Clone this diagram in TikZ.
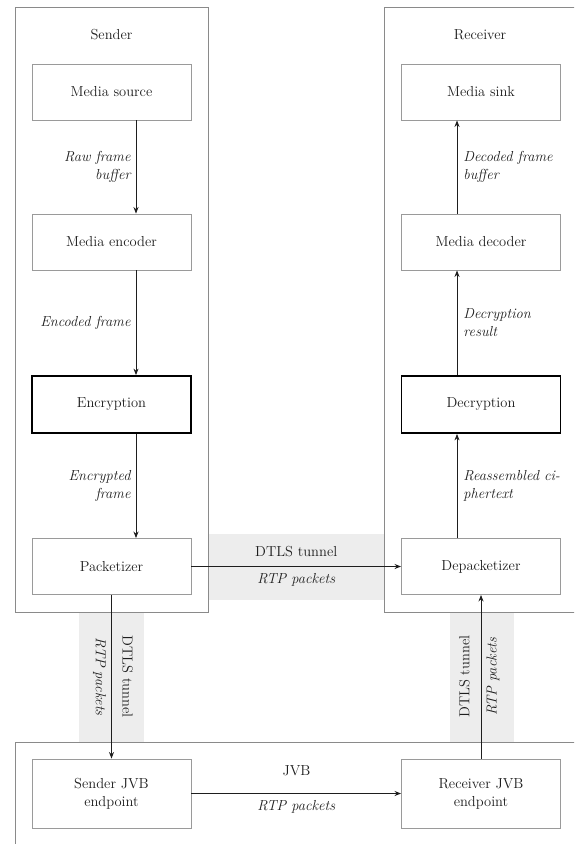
\documentclass[tikz,border=0pt]{standalone}
\usetikzlibrary{arrows.meta}
\definecolor{boxgray}{HTML}{9A9A9A}
\definecolor{framegray}{HTML}{8A8A8A}
\definecolor{bandgray}{HTML}{EDEDED}
\definecolor{inkcol}{HTML}{1E1E1E}
\begin{document}
\begin{tikzpicture}[x=1pt,y=-1pt,
  font=\fontsize{14.5}{18}\selectfont, text=inkcol,
  stagebox/.style={draw=boxgray, line width=0.9pt, minimum width=159pt, minimum height=56pt, inner sep=0pt, align=center},
  cryptbox/.style={stagebox, draw=black, line width=1.8pt, minimum height=57pt},
  jvbbox/.style={stagebox, minimum height=69pt},
  framebox/.style={draw=framegray, line width=0.9pt},
  bandfill/.style={fill=bandgray, draw=none},
  flow/.style={-{Stealth[length=6.5pt,width=5pt]}, line width=0.9pt, draw=inkcol},
  lbl/.style={font=\fontsize{14.5}{18}\selectfont\itshape, inner sep=0pt},
  title/.style={inner sep=0pt}
]
\useasboundingbox (0,0) rectangle (574,844);
\clip (0,0) rectangle (574,844);
\fill[white] (0,0) rectangle (574,844);

% grey tunnel bands
\path[bandfill] (208.5,534) rectangle (384.5,599.5);
\path[bandfill] (79,612) rectangle (144,742);
\path[bandfill] (449.5,612) rectangle (514,742);

% containers
\draw[framebox] (15,7) rectangle (208.5,612);
\draw[framebox] (384.5,7) rectangle (640,612);
\draw[framebox] (15.5,742) rectangle (640,900);
\node[title] (sendert) at (111.5,35) {Sender};
\node[title] (receivert) at (480,35) {Receiver};
\node[title] (jvbt) at (296.5,770.5) {JVB};

% sender stages
\node[stagebox] (src) at (111.5,92) {Media source};
\node[stagebox] (menc) at (111.5,242) {Media encoder};
\node[cryptbox] (encr) at (111.5,404.5) {Encryption};
\node[stagebox] (pack) at (111.5,566.5) {Packetizer};

% receiver stages
\node[stagebox] (sink) at (481,92) {Media sink};
\node[stagebox] (mdec) at (481,242) {Media decoder};
\node[cryptbox] (decr) at (481,404.5) {Decryption};
\node[stagebox] (depack) at (481,566.5) {Depacketizer};

% JVB endpoints
\node[jvbbox] (sjvb) at (111.5,793.5) {Sender JVB\\endpoint};
\node[jvbbox] (rjvb) at (481,793.5) {Receiver JVB\\endpoint};

% sender flow
\draw[flow] ([xshift=24.5pt]src.south) -- ([xshift=24.5pt]menc.north)
  node[midway, left=5pt, lbl, align=right] {Raw frame\\buffer};
\draw[flow] ([xshift=24.5pt]menc.south) -- ([xshift=24.5pt]encr.north)
  node[midway, left=5pt, lbl, align=right] {Encoded frame};
\draw[flow] ([xshift=24.5pt]encr.south) -- ([xshift=24.5pt]pack.north)
  node[midway, left=5pt, lbl, align=right] {Encrypted\\frame};

% receiver flow
\draw[flow] ([xshift=-24pt]depack.north) -- ([xshift=-24pt]decr.south)
  node[midway, right=6pt, lbl, align=left] {Reassembled ci-\\phertext};
\draw[flow] ([xshift=-24pt]decr.north) -- ([xshift=-24pt]mdec.south)
  node[midway, right=6pt, lbl, align=left] {Decryption\\result};
\draw[flow] ([xshift=-24pt]mdec.north) -- ([xshift=-24pt]sink.south)
  node[midway, right=6pt, lbl, align=left] {Decoded frame\\buffer};

% tunnels
\draw[flow] (pack.east) -- (depack.west)
  node[midway, above=9pt, inner sep=0pt] {DTLS tunnel}
  node[midway, below=6pt, lbl] {RTP packets};
\draw[flow] (pack.south) -- (sjvb.north)
  node[midway, xshift=16pt, rotate=-90, inner sep=0pt] {DTLS tunnel}
  node[midway, xshift=-12pt, rotate=-90, lbl] {RTP packets};
\draw[flow] (rjvb.north) -- (depack.south)
  node[midway, xshift=-16.5pt, rotate=90, inner sep=0pt] {DTLS tunnel}
  node[midway, xshift=12pt, rotate=90, lbl] {RTP packets};

% JVB internal forwarding
\draw[flow] (sjvb.east) -- (rjvb.west)
  node[midway, below=6pt, lbl] {RTP packets};
\end{tikzpicture}
\end{document}
